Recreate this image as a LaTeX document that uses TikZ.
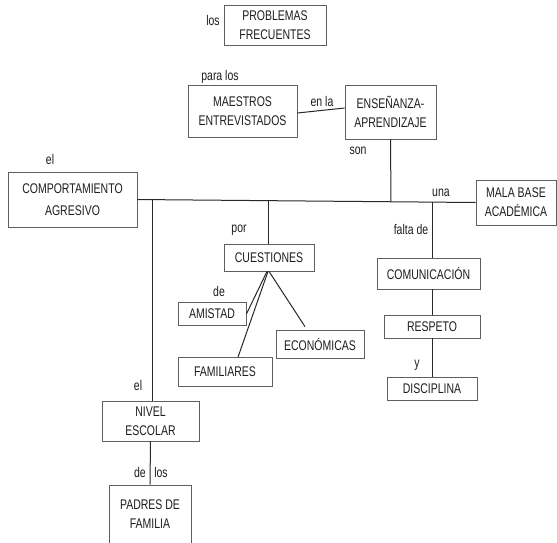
\documentclass[tikz,border=0pt]{standalone}
\usepackage{fontspec}
\setmainfont{Liberation Sans}[FakeStretch=0.75]
\usetikzlibrary{calc}
\definecolor{boxgray}{RGB}{95,95,95}
\definecolor{linecol}{RGB}{40,40,40}
\definecolor{txt}{RGB}{30,30,30}
\begin{document}
\begin{tikzpicture}[x=1pt,y=-1pt,
  box/.style={draw=boxgray, line width=0.8pt, align=center, inner sep=0pt,
    font=\fontsize{14}{19}\selectfont, text=txt},
  lbl/.style={inner sep=0pt, font=\fontsize{14}{16}\selectfont, text=txt},
  conn/.style={draw=linecol, line width=1pt}]
\clip (0,0) rectangle (557,542);
\fill[white] (0,0) rectangle (557,542);

% boxes
\node[box, minimum width=102pt, minimum height=40pt] (prob) at (275,25) {PROBLEMAS\\FRECUENTES};
\node[box, minimum width=109pt, minimum height=52pt] (maes) at (242.5,111) {MAESTROS\\ENTREVISTADOS};
\node[box, minimum width=91pt, minimum height=54pt] (ens) at (390.5,112) {ENSEÑANZA-\\APRENDIZAJE};
\node[box, minimum width=129pt, minimum height=55pt, font=\fontsize{14}{22}\selectfont] (comp) at (72.5,199.5) {COMPORTAMIENTO\\AGRESIVO};
\node[box, minimum width=80pt, minimum height=45pt] (mala) at (516,202.5) {MALA BASE\\ACADÉMICA};
\node[box, minimum width=90pt, minimum height=27pt] (cues) at (269,257.5) {CUESTIONES};
\node[box, minimum width=68pt, minimum height=23pt] (amis) at (212,314) {AMISTAD};
\node[box, minimum width=88pt, minimum height=28pt] (econ) at (320,344) {ECONÓMICAS};
\node[box, minimum width=94pt, minimum height=29pt] (fam) at (225,372) {FAMILIARES};
\node[box, minimum width=103pt, minimum height=31pt] (comu) at (428.5,273.5) {COMUNICACIÓN};
\node[box, minimum width=96pt, minimum height=23pt] (resp) at (432,326.5) {RESPETO};
\node[box, minimum width=90pt, minimum height=23pt] (disc) at (432,388.5) {DISCIPLINA};
\node[box, minimum width=97pt, minimum height=40pt] (nivel) at (150.5,421) {NIVEL\\ESCOLAR};
\node[box, minimum width=82pt, minimum height=58pt] (padres) at (150,514) {PADRES DE\\FAMILIA};

% junctions on the main line
\coordinate (j1) at (152,199.6);
\coordinate (j2) at (268,200.7);
\coordinate (j3) at (391,201.7);
\coordinate (j4) at (432,202.1);

% connectors
\draw[conn] (comp.east) -- (mala.west);
\draw[conn] ($(maes.east)+(0,2)$) -- ($(ens.west)+(0,-4)$);
\draw[conn] (ens.south) -- (j3);
\draw[conn] (j1) -- (j1 |- nivel.north);
\draw[conn] (nivel.south) -- (padres.north);
\draw[conn] (j2) -- (j2 |- cues.north);
\draw[conn] ($(cues.south)+(-2,0)$) -- (amis.east);
\draw[conn] ($(cues.south)+(-1,0)$) -- ($(fam.north)+(13,0)$);
\coordinate (econtip) at ($(econ.north)+(-15,-3)$);
\draw[conn] (cues.south) -- (econtip);
\draw[conn] (j4) -- (j4 |- comu.north);
\draw[conn] (j4 |- comu.south) -- (j4 |- resp.north);
\draw[conn] (resp.south) -- (disc.north);

% labels
\node[lbl] (l1) at (213,20) {los};
\node[lbl] (l2) at (220,77) {para los};
\node[lbl] (l3) at (322,101) {en la};
\node[lbl] (l4) at (358,151) {son};
\node[lbl] (l5) at (50,159) {el};
\node[lbl] (l6) at (239,230) {por};
\node[lbl] (l7) at (441,193) {una};
\node[lbl] (l8) at (411,229) {falta de};
\node[lbl] (l9) at (219,291) {de};
\node[lbl] (l10) at (417,365) {y};
\node[lbl] (l11) at (138,385) {el};
\node[lbl] (l12) at (140,472) {de};
\node[lbl] (l13) at (161,472) {los};
\end{tikzpicture}
\end{document}
